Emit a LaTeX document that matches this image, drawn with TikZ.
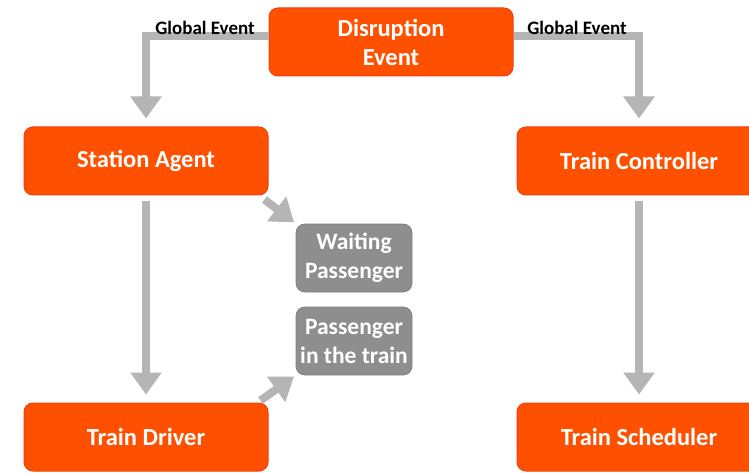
\documentclass[tikz,border=0pt]{standalone}
\usepackage{fontspec}
\setmainfont{Carlito}
\usetikzlibrary{arrows.meta}
\definecolor{boxorange}{HTML}{FF5000}
\definecolor{boxedge}{HTML}{F04010}
\definecolor{boxgray}{HTML}{8E8E8E}
\definecolor{flowgray}{HTML}{B5B5B5}
\tikzset{
  actor/.style={draw=boxedge, line width=1pt, fill=boxorange, rounded corners=9pt,
    minimum width=244pt, minimum height=68pt, text=white, align=center,
    font=\bfseries\fontsize{24.5}{29}\selectfont},
  passenger/.style={draw=boxgray!90!black, line width=0.8pt, fill=boxgray, rounded corners=9pt,
    minimum width=116pt, minimum height=68pt, inner sep=1pt, text=white, align=center,
    font=\bfseries\fontsize{23.5}{29}\selectfont},
  flow/.style={draw=flowgray, line width=8pt,
    -{Triangle[width=30pt,length=22pt]}},
  tag/.style={font=\bfseries\fontsize{19}{22}\selectfont}
}
\begin{document}
\begin{tikzpicture}[x=1pt, y=-1pt]
  \useasboundingbox (0,0) rectangle (749,473);
  \clip (0,0) rectangle (749,473);
  \fill[white] (0,0) rectangle (749,473);
  % actors
  \node[actor] (dis) at (391,42) {Disruption\\Event};
  \node[actor] (sa) at (146,161) {Station Agent};
  \node[actor] (tc) at (639,161) {Train Controller};
  \node[actor] (td) at (146,437) {Train Driver};
  \node[actor] (ts) at (639,437) {Train Scheduler};
  % passengers
  \node[passenger] (wp) at (354,258) {Waiting\\Passenger};
  \node[passenger] (pt) at (354,341) {Passenger\\in the train};
  % flows
  \draw[flow, shorten >=8pt] ([yshift=6pt]dis.west) -| (sa.north);
  \draw[flow, shorten >=8pt] ([yshift=6pt]dis.east) -| (tc.north);
  \draw[flow, shorten <=5pt, shorten >=8pt] (sa.south) -- (td.north);
  \draw[flow, shorten <=5pt, shorten >=8pt] (tc.south) -- (ts.north);
  \draw[flow, shorten >=2pt] ([xshift=-4pt,yshift=-4pt]sa.south east) -- (wp.north west);
  \draw[flow, shorten >=2pt] ([xshift=-8pt,yshift=2pt]td.north east) -- (pt.south west);
  % labels
  \node[tag] (gl) at (205,28) {Global Event};
  \node[tag] (gr) at (577,28) {Global Event};
\end{tikzpicture}
\end{document}
